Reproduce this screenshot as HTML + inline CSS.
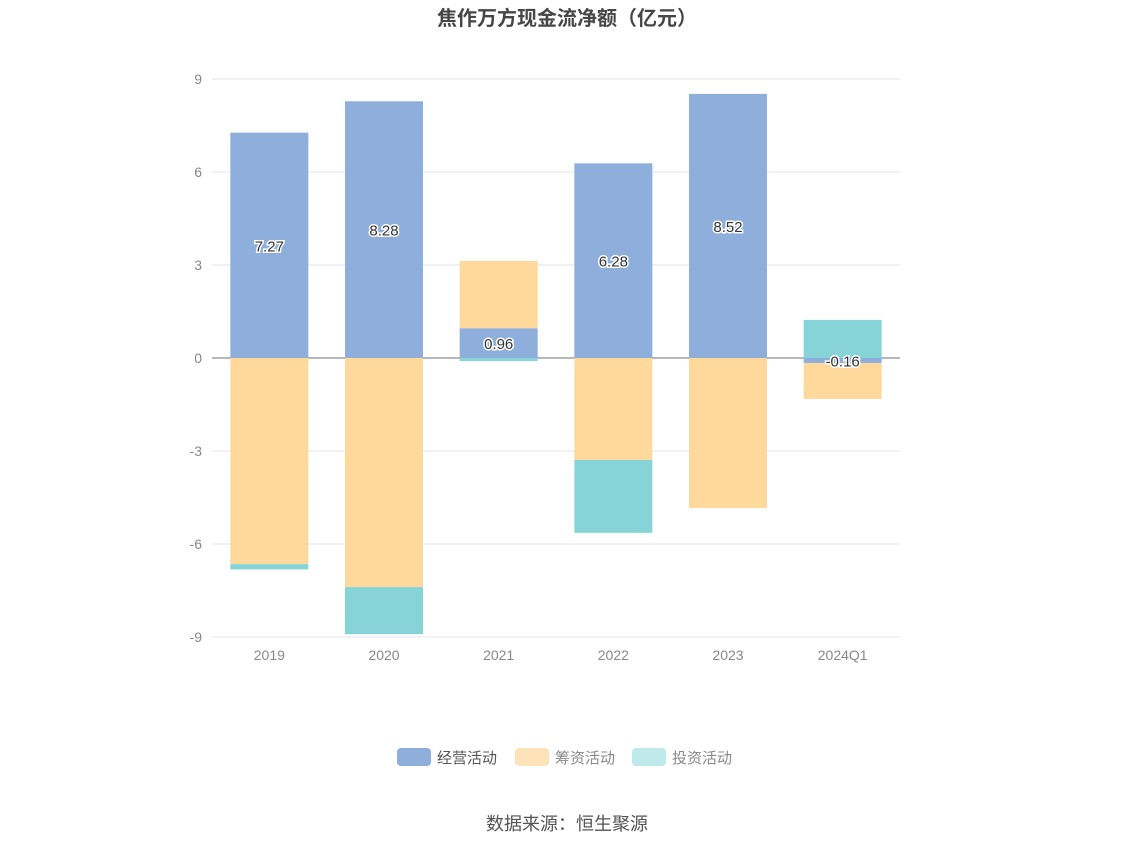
<!DOCTYPE html>
<html><head><meta charset="utf-8"><style>
body{margin:0;background:#fff;font-family:"Liberation Sans","Noto Sans CJK SC",sans-serif;}
svg text{font-family:"Liberation Sans","Noto Sans CJK SC",sans-serif;}
</style></head><body>
<svg id="chart" width="1134" height="849" xmlns="http://www.w3.org/2000/svg">
<text x="567" y="25" text-anchor="middle" font-size="20" font-weight="bold" fill="#464646">焦作万方现金流净额（亿元）</text>
<g id="grid"></g><g id="bars"></g><g id="labels"></g>
<g>
<g><rect x="397" y="748" width="34" height="18" rx="4" fill="#8eaedb"/><text x="437" y="763" font-size="15" fill="#555">经营活动</text></g>
<g><rect x="515" y="748" width="34" height="18" rx="4" fill="#ffe3b8"/><text x="555" y="763" font-size="15" fill="#888">筹资活动</text></g>
<g><rect x="632" y="748" width="34" height="18" rx="4" fill="#bfe9eb"/><text x="672" y="763" font-size="15" fill="#888">投资活动</text></g>
</g>
<text x="567" y="830" text-anchor="middle" font-size="18" fill="#555">数据来源：恒生聚源</text>
</svg>
<script>
const categories=["2019","2020","2021","2022","2023","2024Q1"];
const operating=[7.27,8.28,0.96,6.28,8.52,-0.16];
const financing=[-6.65,-7.39,2.17,-3.29,-4.84,-1.16];
const investing=[-0.17,-1.52,-0.1,-2.35,0,1.23];
const yTicks=[9,6,3,0,-3,-6,-9];
const NS="http://www.w3.org/2000/svg";
const x0=212,x1=900,yTop=79,yBot=637,yMin=-9,yMax=9;
const y=v=>yBot-(v-yMin)/(yMax-yMin)*(yBot-yTop);
const band=(x1-x0)/categories.length;
const xc=i=>x0+band*(i+0.5);
function mk(tag,attrs,parent){const e=document.createElementNS(NS,tag);for(const k in attrs)e.setAttribute(k,attrs[k]);parent.appendChild(e);return e;}
const grid=document.getElementById('grid'),bars=document.getElementById('bars'),labels=document.getElementById('labels');
yTicks.forEach(t=>{
 const l=mk('line',{x1:x0,x2:x1,y1:y(t),y2:y(t),stroke:t===0?'#6e7079':'#e0e6f1','stroke-width':1},grid);
 
 
 const tx=mk('text',{x:x0-10,y:y(t)+5,'text-anchor':'end','font-size':14,fill:'#888'},grid);tx.textContent=t;
 
 
});
categories.forEach((c,i)=>{
 const tx=mk('text',{x:xc(i),y:660,'text-anchor':'middle','font-size':14,fill:'#888'},grid);tx.textContent=c;
 
 
});
const series=[[operating,'#8eaedb','operating'],[financing,'#ffd89b','financing'],[investing,'#86d4d8','investing']];
const bw=78;
categories.forEach((c,i)=>{
 let pos=0,neg=0;
 series.forEach(([arr,col,name])=>{
  const v=arr[i];if(!v)return;
  let a,b;if(v>=0){a=pos;b=pos+v;pos=b;}else{a=neg;b=neg+v;neg=b;}
  const r=mk('rect',{x:xc(i)-bw/2,y:Math.min(y(a),y(b)),width:bw,height:Math.abs(y(a)-y(b)),fill:col},bars);
  
  
 });
 const v=operating[i];
 const t=mk('text',{x:xc(i),y:(y(0)+y(v))/2+6,'text-anchor':'middle','font-size':15,fill:'#333',stroke:'#fff','stroke-width':3,'paint-order':'stroke'},labels);
 t.textContent=v.toFixed(2);
 
 
});
</script>
</body></html>
